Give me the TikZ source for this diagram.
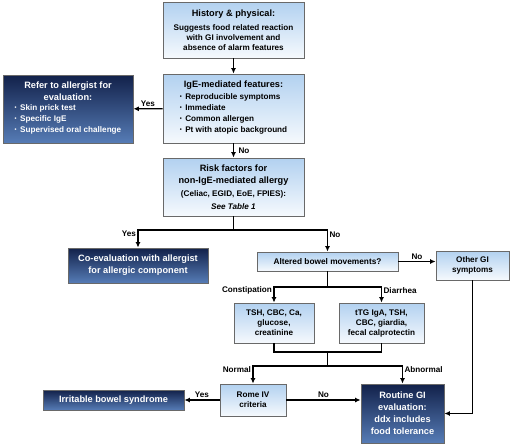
\documentclass[tikz,border=0pt]{standalone}
\usepackage{fontspec}
\setmainfont{Liberation Sans}
\usetikzlibrary{arrows.meta}
\definecolor{boxtop}{RGB}{178,209,240}
\definecolor{darktop}{RGB}{18,33,74}
\definecolor{darkbot}{RGB}{86,124,182}
\definecolor{boxline}{RGB}{105,105,105}
\newcommand{\txthd}{\fontsize{9.2}{12}\selectfont\bfseries}
\newcommand{\txtmd}{\fontsize{8.3}{10}\selectfont\bfseries}
\newcommand{\txtsm}{\fontsize{8.15}{10}\selectfont\bfseries}
\newcommand{\bul}{\raisebox{0.6pt}{\scalebox{0.7}{\textbullet}}\hspace{3.5pt}}
\renewcommand{\arraystretch}{1.1}
\begin{document}
\begin{tikzpicture}[x=1pt, y=-1pt, font=\txtsm]
            \useasboundingbox (0,0) rectangle (511,445);
            \tikzset{lightbox/.style={rectangle, draw=boxline, line width=0.8pt, top color=boxtop, bottom color=boxtop!12,
                inner sep=0pt, align=center, text=black},
              darkbox/.style={rectangle, draw=boxline, line width=0.8pt, top color=darktop, bottom color=darkbot,
                inner sep=0pt, align=center, text=white, font=\txthd},
              link/.style={line width=1.2pt, arrows=-{Latex[length=5.5pt,width=5pt]}},
              plain/.style={line width=1.2pt},
              lbl/.style={inner sep=1.5pt, font=\txtsm}}

        \node[lightbox, minimum width=141pt, minimum height=56pt] (hist) at (233.5,30) {{\txthd History \& physical:}\\[4pt] Suggests food related reaction\\ with GI involvement and\\ absence of alarm features};
        \node[lightbox, minimum width=141pt, minimum height=69pt] (ige) at (233.5,108.5) {{\txthd IgE-mediated features:}\\[1pt]
            \begin{tabular}{@{}l@{}}\bul Reproducible symptoms\\ \bul Immediate\\ \bul Common allergen\\ \bul Pt with atopic background\end{tabular}};
        \node[darkbox, minimum width=130pt, minimum height=68pt] (refer) at (68,109) {Refer to allergist for\\ evaluation:\\[1pt]
            {\txtsm\begin{tabular}{@{}l@{}}\bul Skin prick test\\ \bul Specific IgE\\ \bul Supervised oral challenge\end{tabular}}};
        \node[lightbox, minimum width=141pt, minimum height=58pt] (risk) at (233.5,187) {{\txthd Risk factors for}\\[2pt] {\txthd non-IgE-mediated allergy}\\[3pt] (Celiac, EGID, EoE, FPIES):\\[3pt] \textit{See Table 1}};

        \node[darkbox, minimum width=140pt, minimum height=35pt] (coeval) at (138,265.5) {Co-evaluation with allergist\\ for allergic component};
        \node[lightbox, minimum width=141pt, minimum height=19pt] (altered) at (327.5,261.5) {\txtmd Altered bowel movements?};
        \node[lightbox, minimum width=73pt, minimum height=29pt] (other) at (472.5,265.5) {Other GI\\ symptoms};

        \node[lightbox, minimum width=80pt, minimum height=40pt] (tsh) at (274,323) {TSH, CBC, Ca,\\ glucose,\\ creatinine};
        \node[lightbox, minimum width=85pt, minimum height=40pt] (ttg) at (381.5,323) {tTG IgA, TSH,\\ CBC, giardia,\\ fecal calprotectin};

        \node[darkbox, minimum width=141pt, minimum height=20pt] (ibs) at (113.5,400) {Irritable bowel syndrome};
        \node[lightbox, minimum width=66pt, minimum height=32pt] (rome) at (253,400) {Rome IV\\ criteria};
        \node[darkbox, minimum width=83pt, minimum height=59pt] (routine) at (402.5,413.5) {Routine GI\\ evaluation:\\ ddx includes\\ food tolerance};

        \coordinate (split1) at (233.5,230);
        \coordinate (split2) at (327.5,287);
        \coordinate (merge) at (327.5,352);
        \coordinate (split3) at (327.5,366);

        \draw[link] (hist) -- (ige);
        \draw[link] (ige) -- node[lbl, above] {Yes} (refer);
        \draw[link] (ige) -- node[lbl, right, xshift=3pt] {No} (risk);
        \draw[link] (risk.south) -- (split1) -| node[lbl, pos=0.6, left] {Yes} (coeval.north);
        \draw[link] (split1) -| node[lbl, pos=0.6, right] {No} (altered.north);
        \draw[link] (altered.east) -- node[lbl, above] {No} (altered.east -| other.west);

        \draw[link] (altered.south) -- (split2) -| node[lbl, pos=0.6, left] {Constipation} (tsh.north);
        \draw[link] (split2) -| node[lbl, pos=0.6, right] {Diarrhea} (ttg.north);
        \draw[plain] (tsh.south) |- (merge);
        \draw[plain] (ttg.south) |- (merge);
        \draw[plain] (merge) -- (split3);
        \draw[link] (split3) -| node[lbl, pos=0.6, left] {Normal} (rome.north);
        \draw[link] (split3) -| node[lbl, pos=0.6, right] {Abnormal} (routine.north);

        \draw[link] (rome) -- node[lbl, above] {Yes} (ibs);
        \draw[link] (rome.east) -- node[lbl, above] {No} (rome.east -| routine.west);
        \draw[link] (other.south) |- (routine.east);

        \end{tikzpicture}
\end{document}
